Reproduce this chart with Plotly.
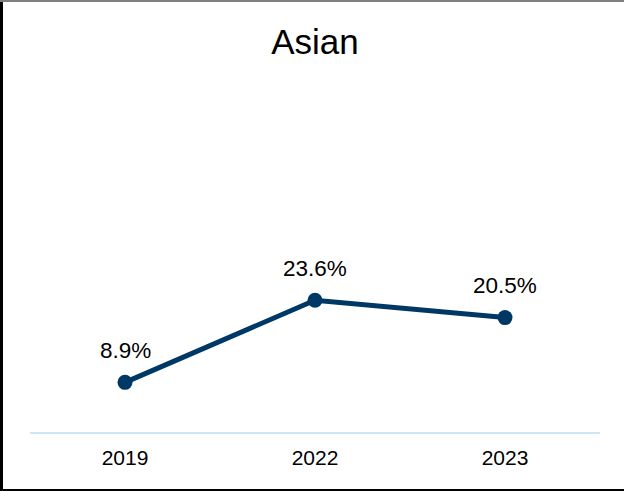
import plotly.graph_objects as go

# Share of respondents, Asian group, by survey year
years = ["2019", "2022", "2023"]
values = [8.9, 23.6, 20.5]
labels = [f"{v:.1f}%" for v in values]

LINE_COLOR = "#003865"
FONT = "Liberation Sans, Arial, sans-serif"

W, H = 624, 491
ML, MR, MT, MB = 30, 24, 80, 59
PW, PH = W - ML - MR, H - MT - MB

fig = go.Figure()
fig.add_trace(go.Scatter(
    x=years, y=values, mode="lines+markers",
    line=dict(color=LINE_COLOR, width=5),
    marker=dict(color=LINE_COLOR, size=15),
    hoverinfo="skip",
))

def px_x(p):
    return (p - ML) / PW

def px_y(p):
    return (H - MB - p) / PH

annotations = [
    dict(x=i, y=v, xref="x", yref="y", text=t, showarrow=False,
         yshift=32, xanchor="center", yanchor="middle",
         font=dict(family=FONT, size=22.5, color="#000000"))
    for i, (v, t) in enumerate(zip(values, labels))
]

# Frame around the figure: black left and bottom edges, grey top edge
shapes = [
    dict(type="line", xref="paper", yref="paper",
         x0=px_x(1.5), x1=px_x(1.5), y0=px_y(0), y1=px_y(H),
         line=dict(color="#000000", width=3)),
    dict(type="line", xref="paper", yref="paper",
         x0=px_x(0), x1=px_x(W), y0=px_y(H - 1), y1=px_y(H - 1),
         line=dict(color="#000000", width=2)),
    dict(type="line", xref="paper", yref="paper",
         x0=px_x(0), x1=px_x(W), y0=px_y(1), y1=px_y(1),
         line=dict(color="#7f7f7f", width=2)),
]

fig.update_layout(
    width=W, height=H,
    margin=dict(l=ML, r=MR, t=MT, b=MB),
    paper_bgcolor="#ffffff", plot_bgcolor="#ffffff",
    showlegend=False,
    annotations=annotations,
    shapes=shapes,
    title=dict(text="Asian", x=0.5, xref="paper", xanchor="center",
               y=1 - 42 / H, yanchor="middle",
               font=dict(family=FONT, size=35, color="#000000")),
    xaxis=dict(type="category", range=[-0.5, 2.5], showgrid=False,
               zeroline=False, showline=True, linecolor="#cfe5f8", linewidth=2,
               ticks="outside", ticklen=6, tickcolor="rgba(0,0,0,0)",
               tickfont=dict(family=FONT, size=21, color="#000000")),
    yaxis=dict(range=[0, PH / 5.58], showgrid=False, zeroline=False,
               showline=False, showticklabels=False, ticks=""),
)

fig.write_html("out.html")
